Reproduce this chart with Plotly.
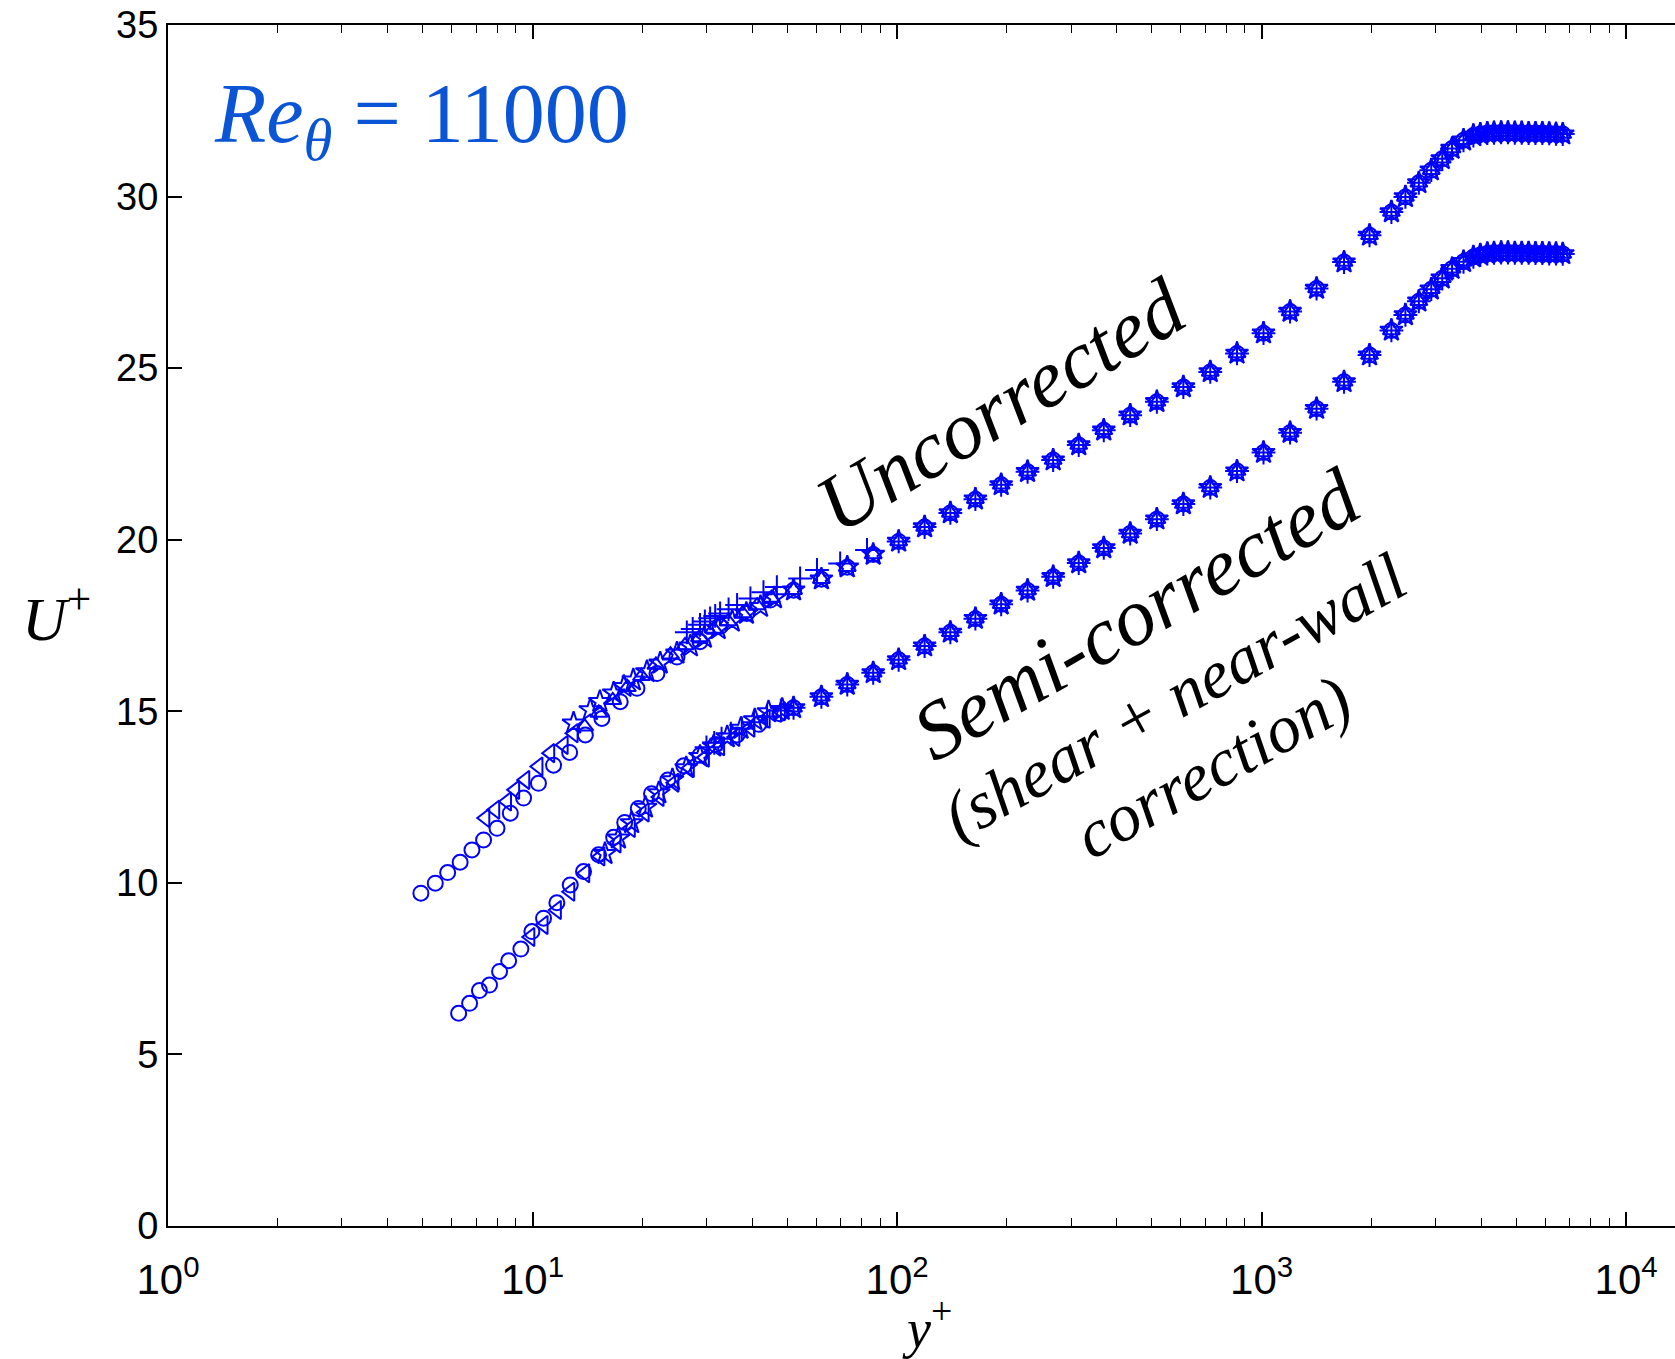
import plotly.graph_objects as go

# ---------------- data ----------------
# shared probe positions in the log / wake region
yp_log = [52, 62, 73, 86, 101, 119, 140, 164, 193, 228, 268, 315, 369, 436, 516,
          610, 723, 856, 1012, 1197, 1415, 1683, 1977, 2270, 2480, 2700, 2920, 3130,
          3330, 3580, 3810, 3980, 4160, 4340, 4540, 4740, 4950, 5170, 5400, 5640,
          5890, 6150, 6420, 6700]
U_up_log = [18.53, 18.85, 19.20, 19.57, 19.95, 20.37, 20.78, 21.18, 21.60, 21.98,
            22.32, 22.76, 23.19, 23.63, 24.02, 24.45, 24.89, 25.43, 26.02, 26.65,
            27.32, 28.09, 28.87, 29.55, 29.99, 30.40, 30.77, 31.10, 31.40, 31.64,
            31.78, 31.82, 31.85, 31.86, 31.87, 31.87, 31.86, 31.86, 31.85, 31.85,
            31.85, 31.84, 31.83, 31.82]
U_lo_log = [15.10, 15.42, 15.78, 16.12, 16.50, 16.90, 17.30, 17.70, 18.12, 18.52,
            18.92, 19.32, 19.76, 20.18, 20.60, 21.04, 21.52, 22.00, 22.54, 23.12,
            23.82, 24.60, 25.38, 26.10, 26.55, 26.95, 27.30, 27.62, 27.90, 28.10,
            28.24, 28.30, 28.34, 28.36, 28.37, 28.37, 28.36, 28.36, 28.36, 28.35,
            28.35, 28.34, 28.34, 28.33]

# Uncorrected, near-wall parts
up_circ_yp = [4.94, 5.41, 5.85, 6.33, 6.82, 7.34, 7.99, 8.69, 9.45, 10.38, 11.42,
              12.64, 13.96, 15.50, 17.40, 19.34, 21.94, 24.9, 28.8, 32.7, 38.7, 44.9]
up_circ_U = [9.70, 9.99, 10.30, 10.60, 10.96, 11.25, 11.59, 12.03, 12.47, 12.90, 13.43,
             13.80, 14.31, 14.79, 15.28, 15.67, 16.10, 16.58, 17.03, 17.47, 17.85, 18.24]
up_ltri_yp = [7.42, 7.90, 8.51, 8.96, 9.55, 10.38, 11.18, 12.17, 12.96]
up_ltri_U = [11.89, 12.13, 12.37, 12.71, 13.00, 13.39, 13.78, 14.02, 14.36]
up_tri_yp = [13.9, 15.2, 16.6, 18.2, 19.9, 21.8, 23.9, 26.2, 28.7, 31.4, 34.4, 37.7, 41.3, 45.2]
up_tri_U = [14.55, 14.95, 15.32, 15.70, 16.02, 16.35, 16.65, 16.92, 17.15, 17.40,
            17.62, 17.85, 18.08, 18.30]
up_star_yp = [12.96, 14.4, 15.3, 16.7, 17.8, 18.9, 20.6, 22.4, 24.9, 27.1, 29.6, 32.3,
              35.3, 38.6, 42.2, 46.1]
up_star_U = [14.65, 15.04, 15.28, 15.53, 15.72, 15.91, 16.15, 16.40, 16.69, 16.90,
             17.15, 17.40, 17.62, 17.85, 18.05, 18.30]
up_plus_yp = [26.5, 27.5, 28.8, 29.7, 30.7, 31.7, 32.7, 34.5, 36.4, 39.6, 43.0, 46.8,
              54.2, 60.3, 69.8, 82.7]
up_plus_U = [17.30, 17.40, 17.52, 17.62, 17.71, 17.78, 17.85, 17.97, 18.10, 18.29,
             18.47, 18.62, 18.87, 19.12, 19.31, 19.70]

# Semi-corrected, near-wall parts
lo_circ_yp = [6.27, 6.72, 7.15, 7.62, 8.12, 8.60, 9.29, 9.96, 10.72, 11.66, 12.69,
              13.80, 15.18, 16.69, 17.9, 19.5, 21.2, 23.5, 26.0, 28.8, 31.8, 36.4,
              41.7, 47.7]
lo_circ_U = [6.20, 6.49, 6.86, 7.02, 7.42, 7.73, 8.07, 8.58, 8.97, 9.42, 9.94, 10.33,
             10.82, 11.33, 11.76, 12.17, 12.60, 13.00, 13.41, 13.72, 14.03, 14.31,
             14.62, 14.93]
lo_tri_yp = [9.86, 10.72, 11.66, 12.69, 13.95, 15.35, 17.0, 18.6, 20.3, 22.3, 24.5,
             27.0, 29.7, 32.7, 36.0, 39.6, 43.6, 48.0]
lo_tri_U = [8.42, 8.77, 9.21, 9.74, 10.28, 10.77, 11.15, 11.60, 12.05, 12.50, 12.92,
            13.35, 13.65, 13.98, 14.25, 14.52, 14.78, 15.00]
lo_star_yp = [15.8, 17.2, 18.7, 20.4, 22.2, 24.2, 26.4, 28.8, 31.4, 34.2, 37.3, 40.7,
              44.4, 48.4]
lo_star_U = [10.85, 11.30, 11.75, 12.20, 12.62, 13.00, 13.35, 13.68, 13.98, 14.25,
             14.50, 14.75, 14.98, 15.05]
lo_plus_yp = [30.0, 31.5, 33.0, 35.0, 37.5, 40.5, 44.0, 48.0]
lo_plus_U = [13.95, 14.08, 14.20, 14.35, 14.50, 14.68, 14.85, 15.02]

x_tickvals = [1, 10, 100, 1000, 10000]
x_ticktext = ["10<sup>0</sup>", "10<sup>1</sup>", "10<sup>2</sup>",
              "10<sup>3</sup>", "10<sup>4</sup>"]
y_tickvals = [0, 5, 10, 15, 20, 25, 30, 35]

# ---------------- figure ----------------
BLUE = "#0000ff"
fig = go.Figure()


def add(xs, ys, symbol, size):
    fig.add_trace(go.Scatter(
        x=xs, y=ys, mode="markers", showlegend=False,
        marker=dict(symbol=symbol, size=size, color=BLUE,
                    line=dict(color=BLUE, width=2)),
        cliponaxis=False))


# uncorrected
add(up_circ_yp + yp_log, up_circ_U + U_up_log, "circle-open", 15)
add(up_ltri_yp, up_ltri_U, "triangle-left-open", 16)
add(up_tri_yp + yp_log, up_tri_U + U_up_log, "triangle-up-open", 15)
add(up_star_yp + yp_log, up_star_U + U_up_log, "star-open", 17)
add(up_plus_yp + yp_log[4:], up_plus_U + U_up_log[4:], "cross-thin-open", 17)
# semi-corrected
add(lo_circ_yp + yp_log, lo_circ_U + U_lo_log, "circle-open", 15)
add(lo_tri_yp, lo_tri_U, "triangle-left-open", 16)
add(yp_log, U_lo_log, "triangle-up-open", 15)
add(lo_star_yp + yp_log, lo_star_U + U_lo_log, "star-open", 17)
add(lo_plus_yp + yp_log, lo_plus_U + U_lo_log, "cross-thin-open", 17)

minor_vals = [m * 10 ** e for e in range(0, 4) for m in range(2, 10)]

SANS = "'Liberation Sans', Arial, Helvetica, sans-serif"
SERIF = "'Liberation Serif', 'Times New Roman', Times, serif"

fig.update_xaxes(
    type="log", range=[0, 4.134], showgrid=False, zeroline=False,
    showline=True, linecolor="black", linewidth=2, mirror="ticks",
    ticks="inside", ticklen=14, tickwidth=1.6, tickcolor="black",
    tickmode="array", tickvals=x_tickvals, ticktext=x_ticktext,
    ticklabelstandoff=16,
    tickfont=dict(family=SANS, size=42, color="black"),
    minor=dict(tickmode="array", tickvals=minor_vals, ticks="inside", ticklen=8,
               tickwidth=1.4, tickcolor="black", showgrid=False),
)
fig.update_yaxes(
    range=[0, 35], showgrid=False, zeroline=False,
    showline=True, linecolor="black", linewidth=2, mirror=False,
    ticks="inside", ticklen=14, tickwidth=1.6, tickcolor="black",
    tickmode="array", tickvals=y_tickvals,
    tickfont=dict(family=SANS, size=38, color="black"),
)

ann = [
    dict(text="<i>Re</i><sub><i>θ</i></sub> = 11000", x=0.1679, y=0.921,
         font=dict(family=SERIF, size=84, color="#0a55d6"), textangle=0),
    dict(text="<i>Uncorrected</i>", x=0.5528, y=0.6828,
         font=dict(family=SERIF, size=82, color="black"), textangle=-31),
    dict(text="<i>Semi-corrected</i>", x=0.6427, y=0.5094,
         font=dict(family=SERIF, size=82, color="black"), textangle=-30),
    dict(text="<i>(shear + near-wall</i>", x=0.6682, y=0.4409,
         font=dict(family=SERIF, size=68, color="black"), textangle=-29),
    dict(text="<i>correction)</i>", x=0.6930, y=0.3822,
         font=dict(family=SERIF, size=68, color="black"), textangle=-29),
    dict(text="<i>U</i><sup>+</sup>", x=-0.0743, y=0.5096,
         font=dict(family=SERIF, size=62, color="black"), textangle=0),
    dict(text="<i>y</i><sup>+</sup>", x=0.5036, y=-0.082,
         font=dict(family=SERIF, size=54, color="black"), textangle=0),
]
for a in ann:
    a.update(xref="paper", yref="paper", showarrow=False,
             xanchor="center", yanchor="middle")
fig.update_layout(
    width=1675, height=1359,
    margin=dict(l=168, r=0, t=25, b=133, pad=0),
    plot_bgcolor="white", paper_bgcolor="white",
    annotations=ann,
)

fig.write_html("out.html")
